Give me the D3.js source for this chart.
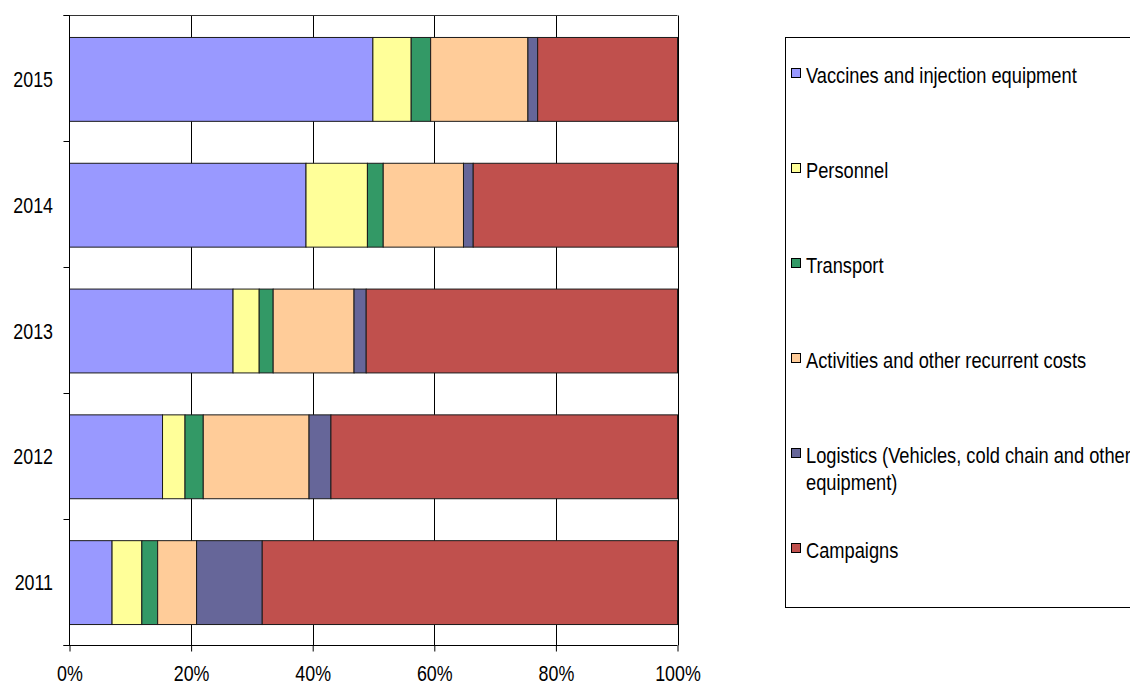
<!DOCTYPE html>
<html>
<head>
<meta charset="utf-8">
<script src="https://cdn.jsdelivr.net/npm/d3@7/dist/d3.min.js"></script>
<style>
  html, body { margin: 0; padding: 0; background: #fff; overflow: hidden; }
  svg text { font-family: "Liberation Sans", Arial, sans-serif; fill: #000; }
</style>
</head>
<body>
<svg id="chart" width="1130" height="686"></svg>
<script>
const years = ["2011", "2012", "2013", "2014", "2015"];
const seriesNames = [
  "Vaccines and injection equipment",
  "Personnel",
  "Transport",
  "Activities and other recurrent costs",
  "Logistics (Vehicles, cold chain and other equipment)",
  "Campaigns"
];
const legendLines = [
  ["Vaccines and injection equipment"],
  ["Personnel"],
  ["Transport"],
  ["Activities and other recurrent costs"],
  ["Logistics (Vehicles, cold chain and other", "equipment)"],
  ["Campaigns"]
];
const vaccines   = [7.0, 15.3, 26.9, 38.9, 49.9];
const personnel  = [4.9, 3.7, 4.3, 10.1, 6.3];
const transport  = [2.6, 3.0, 2.3, 2.6, 3.2];
const activities = [6.4, 17.4, 13.3, 13.2, 16.0];
const logistics  = [10.8, 3.6, 2.0, 1.6, 1.6];
const campaigns  = [68.3, 57.0, 51.2, 33.6, 23.0];
const xTicks = [0, 0.2, 0.4, 0.6, 0.8, 1.0];
const colors = ["#9999FF", "#FFFF99", "#339966", "#FFCC99", "#666699", "#C0504D"];

(function () {
const seriesValues = [vaccines, personnel, transport, activities, logistics, campaigns];
const keys = seriesNames;
const rows = years.map((yr, i) => {
  const r = { year: yr };
  keys.forEach((k, j) => r[k] = seriesValues[j][i]);
  return r;
});

const SX = 0.83;   // horizontal text compression (condensed look)
const SXL = 0.85;  // legend text compression
const FS = 21.5;

const svg = d3.select("#chart");
const pLeft = 69.5, pRight = 677.5, pTop = 15.5, pBottom = 645.5;

const x = d3.scaleLinear().domain([0, 1]).range([pLeft, pRight]);
const y = d3.scaleBand().domain(years.slice().reverse()).range([pTop + 1, pBottom])
  .paddingInner(1 / 3).paddingOuter(1 / 6);

const stack = d3.stack().keys(keys).offset(d3.stackOffsetExpand);
const stacked = stack(rows);

// vertical gridlines
svg.append("g").selectAll("line").data(xTicks.slice(1)).join("line")
  .attr("x1", d => Math.round(x(d)) + 0.5).attr("x2", d => Math.round(x(d)) + 0.5)
  .attr("y1", pTop).attr("y2", pBottom)
  .attr("stroke", "#000").attr("stroke-width", 1);

// top border line
svg.append("line").attr("x1", pLeft - 6).attr("x2", pRight)
  .attr("y1", pTop).attr("y2", pTop).attr("stroke", "#333").attr("stroke-width", 1);

// bars
svg.append("g").selectAll("g").data(stacked).join("g")
  .attr("fill", (d, i) => colors[i])
  .selectAll("rect").data(d => d).join("rect")
  .attr("x", d => x(d[0]))
  .attr("width", d => x(d[1]) - x(d[0]))
  .attr("y", d => y(d.data.year))
  .attr("height", y.bandwidth())
  .attr("stroke", "#1a1a1a").attr("stroke-width", 1);

// x axis
const xAxis = d3.axisBottom(x).tickValues(xTicks).tickFormat(d3.format(".0%"))
  .tickSize(6).tickSizeOuter(0).tickPadding(14);
const gx = svg.append("g").attr("transform", `translate(0,${pBottom})`).call(xAxis);
gx.select(".domain").attr("d", `M${pLeft - 6},0H${pRight}`).attr("stroke", "#000");
gx.selectAll(".tick line").attr("stroke", "#000");
gx.selectAll(".tick text").attr("font-size", FS).attr("dy", "0.71em")
  .attr("transform", `scale(${SX},1)`);

// y axis: category boundary ticks
const step = (pBottom - pTop) / years.length;
const boundaries = d3.range(years.length + 1).map(i => pTop + i * step);
svg.append("g").selectAll("line").data(boundaries).join("line")
  .attr("x1", pLeft - 6).attr("x2", pLeft).attr("y1", d => d).attr("y2", d => d)
  .attr("stroke", "#000");
svg.append("line").attr("x1", pLeft).attr("x2", pLeft).attr("y1", pTop).attr("y2", pBottom)
  .attr("stroke", "#000");
svg.append("g").selectAll("text").data(years).join("text")
  .attr("transform", d => `translate(${pLeft - 16.5},${y(d) + y.bandwidth() / 2}) scale(${SX},1)`)
  .attr("dy", "0.35em").attr("text-anchor", "end").attr("font-size", FS)
  .text(d => d);

// legend
const lg = svg.append("g");
lg.append("rect").attr("x", 785.5).attr("y", 37.5).attr("width", 400).attr("height", 570)
  .attr("fill", "#fff").attr("stroke", "#000");
const items = lg.selectAll("g.item").data(legendLines).join("g").attr("class", "item")
  .attr("transform", (d, i) => `translate(0,${75 + i * 95})`);
items.append("rect").attr("x", 791.5).attr("y", -6.5).attr("width", 9).attr("height", 9)
  .attr("fill", (d, i) => colors[i]).attr("stroke", "#000");
items.each(function (lines) {
  const g = d3.select(this);
  lines.forEach((t, k) => {
    g.append("text").attr("transform", `translate(806,${k * 27}) scale(${SXL},1)`)
      .attr("dy", "0.35em").attr("font-size", FS).text(t);
  });
});
})();
</script>
</body>
</html>
